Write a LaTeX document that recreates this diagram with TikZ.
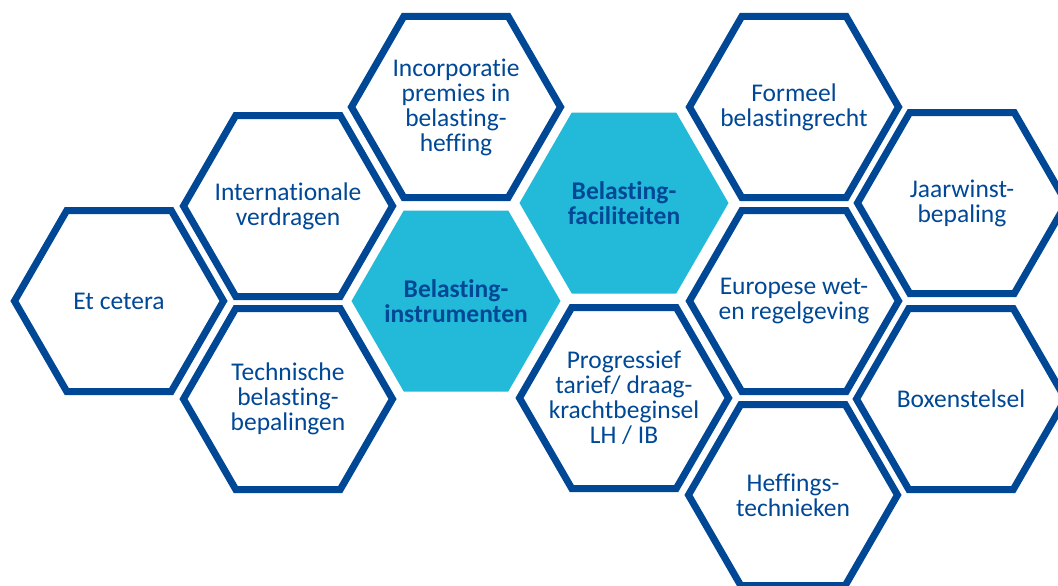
\documentclass[tikz,border=0pt]{standalone}
\usepackage{fontspec}
\setmainfont{Carlito}[Ligatures=NoCommon]
\usetikzlibrary{shapes.geometric}
\definecolor{hexblue}{RGB}{0,72,150}
\definecolor{hexcyan}{RGB}{35,185,216}
\tikzset{
  hexcell/.style={regular polygon, regular polygon sides=6, minimum size=209pt, inner sep=0pt},
  hexline/.style={hexcell, draw=hexblue, line width=7pt},
  hexfill/.style={hexcell, fill=hexcyan},
  hextext/.style={align=center, text=hexblue, inner sep=0pt, font=\fontsize{25.5}{25}\selectfont},
  hexbold/.style={hextext, font=\fontsize{25.5}{25}\selectfont\bfseries}
}
\begin{document}
\begin{tikzpicture}[x=1pt,y=-1pt]
\useasboundingbox (0,0) rectangle (1058,586);
% outlined cells
\node[hexline] (etc) at (119,301) {};
\node[hexline] (intl) at (288,206) {};
\node[hexline] (techn) at (288,399) {};
\node[hexline] (incorp) at (456,107) {};
\node[hexline] (progr) at (624,398) {};
\node[hexline] (formeel) at (794,107) {};
\node[hexline] (europ) at (794,301) {};
\node[hexline] (heff) at (793,495) {};
\node[hexline] (jaarw) at (962,203) {};
\node[hexline] (boxen) at (961,399) {};
% filled cells
\node[hexfill] (instr) at (456,301) {};
\node[hexfill] (facil) at (624,203) {};
% texts
\node[hextext] (etc-t) at (etc) {Et cetera};
\node[hextext] (intl-t) at (intl) {Internationale\\verdragen};
\node[hextext] (techn-t) at (techn) {Technische\\belasting-\\bepalingen};
\node[hextext] (incorp-t) at (incorp) {Incorporatie\\premies in\\belasting-\\heffing};
\node[hextext] (progr-t) at (progr) {Progressief\\tarief/ draag-\\krachtbeginsel\\LH / IB};
\node[hextext] (formeel-t) at (formeel) {Formeel\\belastingrecht};
\node[hextext] (europ-t) at (europ) {Europese wet-\\en regelgeving};
\node[hextext] (heff-t) at (heff) {Heffings-\\technieken};
\node[hextext] (jaarw-t) at (jaarw) {Jaarwinst-\\bepaling};
\node[hextext] (boxen-t) at (boxen) {Boxenstelsel};
\node[hexbold] (instr-t) at (instr) {Belasting-\\instrumenten};
\node[hexbold] (facil-t) at (facil) {Belasting-\\faciliteiten};
\end{tikzpicture}
\end{document}
